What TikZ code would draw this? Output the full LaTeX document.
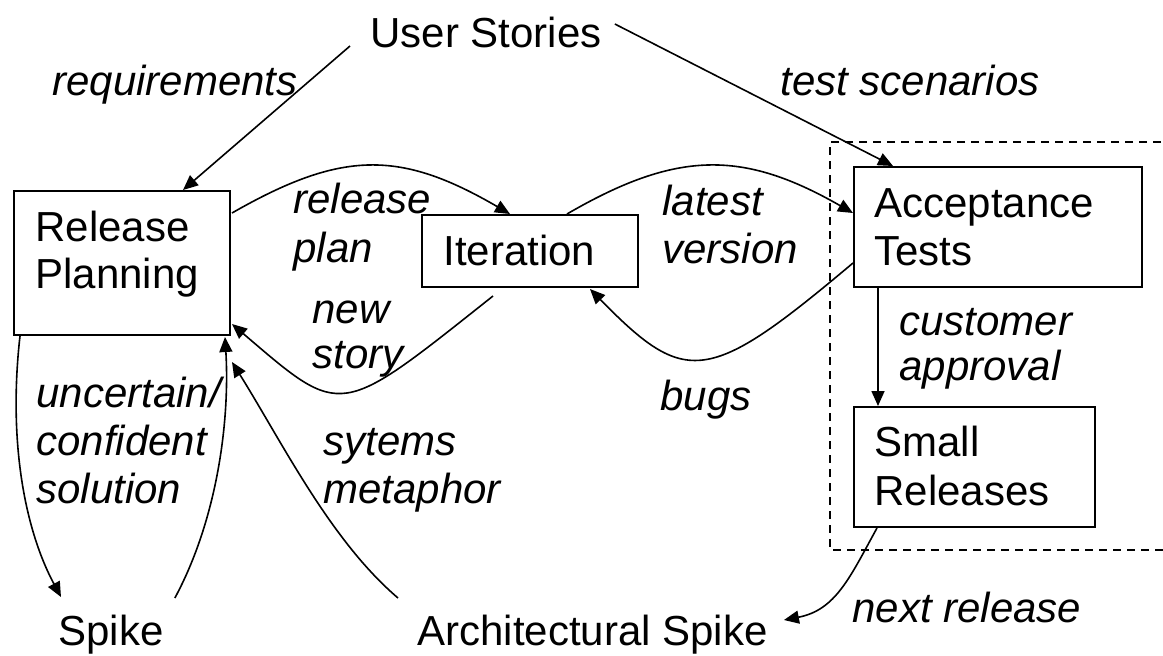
\documentclass[tikz,border=0pt]{standalone}
\usepackage{fontspec}
\setmainfont{Liberation Sans}
\usetikzlibrary{arrows.meta,calc}

\begin{document}
\begin{tikzpicture}[
  x=0.5pt, y=-0.5pt,
  every node/.style={font=\fontsize{21pt}{23.5pt}\selectfont},
  txt/.style={anchor=base west, inner sep=0pt},
  lbl/.style={txt, font=\fontsize{21pt}{23.5pt}\selectfont\itshape},
  box/.style={draw, line width=1pt, anchor=north west, inner sep=0pt},
  flow/.style={line width=0.8pt, -{Triangle[length=7.5pt,width=6.5pt]}},
  group/.style={line width=0.8pt, dash pattern=on 4pt off 3pt}
]
\useasboundingbox (0,0) rectangle (1163,655);

% boxes
\node[box, minimum width=108pt, minimum height=72pt] (rp) at (13,190) {};
\node[box, minimum width=108pt, minimum height=36pt] (it) at (421,214) {};
\node[box, minimum width=144pt, minimum height=60pt] (at) at (853,166) {};
\node[box, minimum width=120.5pt, minimum height=60pt] (sr) at (853,406) {};

% box texts
\node[txt] (rp1) at (35,241) {Release};
\node[txt] (rp2) at (35,288) {Planning};
\node[txt] (it1) at (443,265) {Iteration};
\node[txt] (at1) at (874,217) {Acceptance};
\node[txt] (at2) at (874,265) {Tests};
\node[txt] (sr1) at (874,456) {Small};
\node[txt] (sr2) at (874,505) {Releases};

% free-standing items
\node[txt] (us) at (370,47) {User Stories};
\node[txt] (sp) at (58,645) {Spike};
\node[txt] (arc) at (417,645) {Architectural Spike};

% group of acceptance activities
\draw[group] (1175,142) -- (830,142) -- (830,550) -- (1175,550);

% connector labels
\node[lbl] (l-req) at (52,95) {requirements};
\node[lbl] (l-test) at (780,95) {test scenarios};
\node[lbl] (l-rel1) at (293,213) {release};
\node[lbl] (l-rel2) at (293,262) {plan};
\node[lbl] (l-lat1) at (662,215) {latest};
\node[lbl] (l-lat2) at (662,263) {version};
\node[lbl] (l-new1) at (312,323) {new};
\node[lbl] (l-new2) at (312,368) {story};
\node[lbl] (l-bug) at (660,410) {bugs};
\node[lbl] (l-unc1) at (36,407) {uncertain/};
\node[lbl] (l-unc2) at (36,455) {confident};
\node[lbl] (l-unc3) at (36,503) {solution};
\node[lbl] (l-sys1) at (323,455) {sytems};
\node[lbl] (l-sys2) at (323,503) {metaphor};
\node[lbl] (l-cus1) at (899,335) {customer};
\node[lbl] (l-cus2) at (899,380) {approval};
\node[lbl] (l-next) at (852,622) {next release};

% connectors
\draw[flow] ($(us.base west)+(-20,-1)$) -- ($(rp.north west)+(170,0)$);
\draw[flow] ($(us.base east)+(13,-23)$) -- ($(at.north west)+(40,0)$);
\draw[flow] ($(rp.north east)+(1,23)$) .. controls +(110,-63) and +(-110,-64) .. ($(it.north west)+(89,0)$);
\draw[flow] ($(it.north west)+(146,0)$) .. controls +(110,-64) and +(-110,-63) .. ($(at.north west)+(0,47)$);
\draw[flow] ($(at.north west)+(0,97)$) .. controls +(-145,122) and +(96,98) .. ($(it.south west)+(169,1)$);
\draw[flow] ($(it.south west)+(72,8)$) .. controls +(-155,123) and +(111,95) .. ($(rp.south east)+(1,-12)$);
\draw[flow] ($(rp.south west)+(7,0)$) .. controls +(-12,106) and +(-36,-67) .. ($(sp.base west)+(3,-48)$);
\draw[flow] ($(sp.base east)+(11,-47)$) .. controls +(42,-78) and +(5,85) .. ($(rp.south east)+(-6,1)$);
\draw[flow] ($(arc.base west)+(-19,-47)$) .. controls +(-68,-58) and +(50,80) .. ($(rp.south east)+(1,26)$);
\draw[flow] ($(at.south west)+(25,0)$) -- ($(sr.north west)+(25,0)$);
\draw[flow] ($(sr.south west)+(24,0)$) .. controls +(-27,49) and +(52,-10) .. ($(arc.base east)+(16,-25)$);
\end{tikzpicture}
\end{document}
